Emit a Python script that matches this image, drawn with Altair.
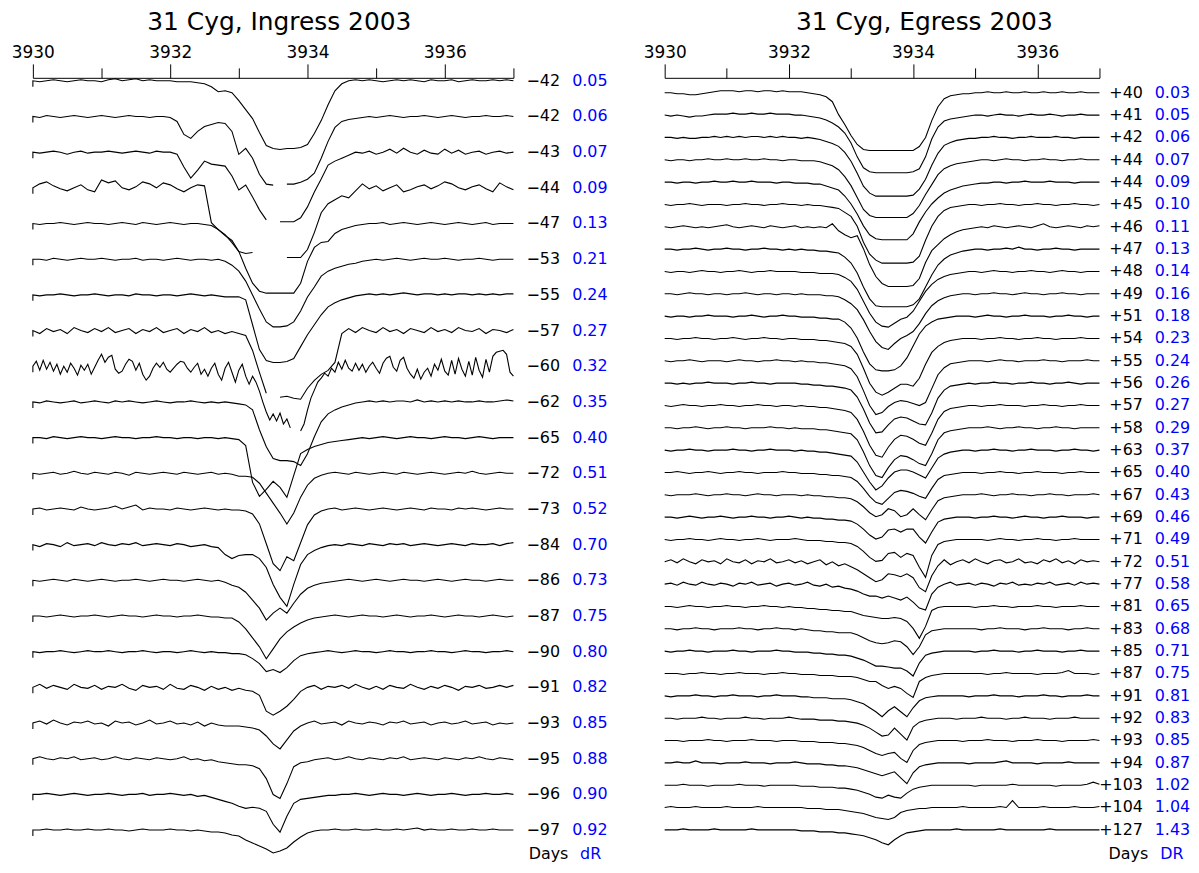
import altair as alt
import pandas as pd

N = None
LAM0, LAM1 = 3930.0, 3937.0   # every spectrum is sampled evenly from 3930.0 to 3937.0 A

# ---------------- Ingress 2003 (left panel) ----------------
LEFT_DAYS = ["−42", "−42", "−43", "−44", "−47", "−53", "−55", "−57", "−60", "−62", "−65",
             "−72", "−73", "−84", "−86", "−87", "−90", "−91", "−93", "−95", "−96", "−97"]
LEFT_DR = ["0.05", "0.06", "0.07", "0.09", "0.13", "0.21", "0.24", "0.27", "0.32", "0.35", "0.40",
           "0.51", "0.52", "0.70", "0.73", "0.75", "0.80", "0.82", "0.85", "0.88", "0.90", "0.92"]
# absorption depth below each spectrum's continuum (arbitrary units, None = gap)
# 71 values = 0.1 A steps; the -60 d spectrum (very noisy) has 141 values = 0.05 A steps
LEFT_SPECTRA = [
    [0, 1, 0, -1, 0, 1, 0, -1, 0, 0, 1, -1, -2, 0, -1, -2, 0, -1, 0, 0,
     0, 1, 1, 1, 2, 3, 6, 11, 10, 12, 20, 29, 38, 52, 65, 68, 69, 68, 68, 67,
     64, 53, 40, 24, 10, 3, 0, -1, 0, -1, 0, 1, 0, -1, 0, -1, 0, 1, -1, 0,
     0, -1, 1, 0, -1, 0, 0, -1, 0, -1, 0],
    [0, 1, -1, 0, 1, 0, -1, 0, 1, 0, -1, 0, 1, 0, -1, 0, 0, 1, 0, 0,
     1, 5, 18, 22, 15, 10, 8, 6, 7, 15, 38, 32, 42, 58, 68, 69, N, 68, 68, 66,
     63, 57, 42, 25, 11, 5, 3, 2, 1, 0, 1, 0, -1, 0, 1, 0, 0, -1, 0, 1,
     0, -1, 0, 1, 0, 0, -1, 0, 0, -1, 0],
    [0, 1, 0, -1, 0, 2, 0, -1, 1, 0, 0, -1, 0, 1, 0, -1, 0, 1, -1, 0,
     0, 2, 15, 26, 18, 9, 12, 13, 14, 24, 38, 33, 45, 58, 68, N, 70, 70, 70, 66,
     55, 40, 27, 13, 9, 6, 3, 0, 1, -1, 2, 0, -3, 1, -4, 0, 2, -2, 1, 2,
     -3, 1, -2, 2, 0, -1, 2, 0, -1, 1, 0],
    [0, -4, -6, -2, 1, 3, 0, -3, 2, 4, -8, -5, -7, 0, 2, -1, -6, -4, 0, -5,
     -3, 1, 4, 0, -3, -2, 35, 42, 47, 55, 64, 66, 65, N, N, N, N, 70, 70, 70,
     62, 45, 25, 16, 12, 8, 10, 3, -4, 1, -2, 3, 0, -3, 4, 2, -1, -3, 1, -2,
     -6, -4, 0, 2, -1, -3, 1, 4, -5, -1, 2],
    [0, 1, 0, 0, -1, 0, 1, 0, -1, 0, 0, 1, 0, -1, 0, 1, -1, 0, 1, 0,
     -1, 0, 1, 0, 0, 1, 2, 6, 12, 17, 28, 45, 60, 68, 70, 70, 70, 70, 70, 60,
     38, 24, 19, 18, 10, 6, 4, 2, 1, 0, 0, -1, 1, 0, -1, 0, 1, 0, -1, 0,
     1, 0, -1, 0, 1, 0, -1, 1, 0, 0, 0],
    [0, 0, 1, -1, 0, 1, 0, -1, 0, 0, -1, 0, 1, 0, 0, -1, 1, 0, 0, 1,
     0, -1, 0, 1, 0, 0, 1, 0, 2, 6, 12, 22, 36, 50, 63, 68, 68, 67, 63, 52,
     38, 28, 17, 12, 9, 7, 5, 4, 2, 1, 0, 1, 0, -1, 0, 1, 0, -1, 0, 0,
     -1, 0, 1, 0, 0, -1, 0, 1, 0, 0, 0],
    [0, 1, 0, 0, -1, 0, 1, 0, 0, -1, 0, 1, 0, 0, 1, -1, 0, 0, 1, 0,
     0, 1, 0, -1, 0, 1, 0, 1, 2, 2, 2, 5, 30, 55, 66, 68, 68, 67, 64, 52,
     40, 30, 20, 12, 8, 5, 3, 1, 0, -1, 0, -1, 0, -1, -2, -1, 0, -1, -1, 0,
     -1, 0, -1, -1, 0, -1, 0, -1, 0, -1, -1],
    [0, 3, -2, 1, -1, 3, -3, 0, 2, -2, 1, -3, 2, 0, -2, 3, -1, 1, -3, 2,
     0, -2, 3, -1, 1, -3, 2, 0, 3, 1, 3, 5, 20, 42, 63, N, 67, 66, 68, 69,
     58, 50, 44, 40, 32, 3, -2, 2, -3, 0, 2, -3, 1, -1, 3, -2, 0, 2, -3, 1,
     -1, 2, -3, 0, 1, -2, 3, -1, 0, 2, -1],
    [0, -5, 4, -6, 3, -4, 5, -2, 8, 0, 6, -3, 2, 9, -1, 4, -2, 8, 1, -6,
     -12, -4, -9, -11, 3, 7, 5, -2, -7, -5, 4, -3, 8, 14, 10, 2, -3, 1, -4, 3,
     6, 2, -2, -5, -4, 2, 6, 1, -3, 8, 3, 10, 2, -3, 8, 14, 2, -4, 6, 16,
     4, -2, 10, 18, 10, 16, 25, 36, 46, 54, 48, 55, 47, 58, 53, 62, N, N, 65, 58,
     44, 32, 24, 16, 12, 7, 10, 2, 6, -4, 3, -6, 2, 5, -3, 4, -2, 6, 0, -4,
     2, 7, -3, -8, -10, 1, 5, -6, -9, 2, 8, 12, 3, 13, 6, 2, 10, -2, 4, -7,
     5, 9, -6, 8, -8, 3, 10, -5, 9, -9, 4, 11, -7, 6, -10, -14, -15, -16, -12, 6,
     10],
    [0, 1, -1, 0, 1, 0, -1, 1, 0, -1, 0, 1, -1, 0, -1, 0, 1, 0, -1, 0,
     1, 0, 0, -1, 0, 1, 0, 1, 0, 1, 2, 3, 8, 28, 45, 57, 59, 59, 60, 64,
     52, 35, 20, 12, 8, 5, 3, 1, 0, -1, 0, -1, 0, -1, -1, 0, -2, 0, -1, 0,
     -1, 0, -1, 0, 0, -1, 0, 0, -1, -2, -1],
    [0, 0, 1, -1, 0, 1, 0, -1, 0, 0, 1, 0, -1, 0, 0, 1, 0, 0, -1, 0,
     0, 1, 0, 0, 1, 0, 0, 1, 0, 1, 2, 8, 45, 59, 52, 44, 50, 60, 38, 16,
     12, 9, 7, 5, 4, 3, 2, 1, 0, 1, 0, -1, 0, 1, 0, -1, 0, 0, 1, 0,
     -1, 0, 0, 1, 0, -1, 0, 1, 0, 0, 0],
    [0, 1, 0, -1, 1, 0, -2, 0, 1, -1, 0, 1, -1, 0, 2, -1, 0, 1, 0, -1,
     0, 1, -1, 0, 1, 0, -1, 1, 0, 1, 3, 3, 4, 10, 20, 30, 40, 51, 40, 24,
     12, 5, 2, 0, -1, 0, 1, -1, 0, 1, 0, -1, 0, 1, -1, 0, 1, 0, -1, 0,
     1, 0, -1, 0, -2, 0, 1, 0, -1, 0, 0],
    [0, -1, 1, 0, -1, 0, 1, -2, 0, 1, 0, -1, -3, 0, -2, -4, 1, -1, 0, 0,
     1, -1, 0, 1, 0, -1, 0, 1, 0, 1, 1, 2, 5, 15, 35, 55, 62, 48, 52, 34,
     16, 6, 2, 0, -1, 1, 0, -1, 0, 1, 0, -1, 0, 1, 0, -1, 0, 1, -1, 0,
     0, 1, -1, 0, -1, 0, 1, 0, -1, 0, 0],
    [0, 2, -1, 0, 2, -2, 1, 0, -1, 1, -2, 0, 1, -1, 0, -2, 1, 0, -1, 0,
     1, -1, 0, 2, 1, 0, 2, 3, 10, 14, 11, 10, 10, 14, 23, 40, 53, 62, 40, 20,
     10, 6, 3, 1, 0, 1, -1, 0, 1, -1, 0, 1, -1, 0, -1, 1, 0, -1, 0, 1,
     0, -1, 0, 1, -1, 0, 0, -1, 1, -1, -2],
    [0, 1, 0, -1, 0, 1, -1, 0, 1, 0, -1, 0, 1, 0, 0, -1, 0, 1, 0, -1,
     0, 0, 1, 0, -1, 0, 1, 0, 2, 5, 7, 12, 20, 28, 40, 33, 28, 33, 23, 14,
     8, 5, 3, 2, 1, 0, -1, 0, 1, 0, -1, 0, 1, 0, -1, 0, 0, 1, 0, -1,
     0, 1, 0, -1, 0, 0, 1, 0, -1, 0, 0],
    [0, 0, 1, 0, -1, 0, 1, 0, 0, -1, 0, 1, 0, -1, 0, 0, 1, 0, -1, 0,
     0, 1, 0, 0, -1, 0, 1, 1, 2, 2, 6, 13, 22, 31, 43, 33, 23, 16, 11, 7,
     4, 2, 1, 0, -1, 0, 1, 0, -1, 0, 0, 1, 0, -1, 0, 1, 0, 0, -1, 0,
     1, 0, -1, 0, 0, 1, 0, -1, 0, 1, 0],
    [0, 1, 0, 0, -1, 0, 1, 0, -1, 0, 0, -1, 0, 1, 0, 0, -1, 0, 1, 0,
     0, 1, 0, -1, 0, 1, 0, 1, 1, 2, 2, 3, 7, 12, 20, 18, 21, 16, 9, 4,
     2, 1, 0, -1, 0, 1, 0, -1, 0, 0, 1, 0, -1, 0, 0, 1, 0, 0, -1, 0,
     0, 1, 0, -1, 0, 0, 1, 0, 0, -1, 0],
    [0, -3, 1, -2, 0, 2, -3, 0, 1, -2, 2, -1, 0, -3, 1, 3, -2, 0, -1, 2,
     -3, 1, 2, -2, 0, 3, -1, 2, 0, 3, 1, 3, 4, 8, 24, 28, 24, 19, 12, 4,
     0, -2, 2, -1, 0, -2, 1, -3, 0, 2, -1, 2, -2, 0, 1, -3, 0, 2, -1, 1,
     -2, 0, 3, -1, 0, -2, 1, 0, -2, 0, -2],
    [0, -2, 1, -3, 0, 2, -1, 0, -2, 1, 0, 3, -2, 0, -1, 2, 0, -3, 1, 0,
     -2, 1, 0, 2, -1, 3, 0, 2, 3, 3, 3, 4, 5, 7, 13, 21, 26, 17, 8, 3,
     0, -2, 1, 0, -1, 2, -2, 0, 1, -1, 0, 2, -1, 0, -2, 1, 0, -1, 2, 0,
     -1, 1, 0, -2, 1, 0, -1, 2, 0, 1, 0],
    [0, -2, 0, 1, -1, 0, -2, 1, 0, -1, 1, 0, -2, 0, 1, -1, 0, 1, -1, 0,
     1, 0, -2, 1, 0, 2, 1, 3, 4, 5, 6, 6, 7, 10, 20, 36, 40, 25, 8, 4,
     3, 1, 0, -1, 1, 0, -2, 0, 1, -1, 0, 1, -1, 0, -2, 1, 0, -1, 0, 1,
     -1, 0, 1, -1, 0, -2, 0, 1, -1, 0, 1],
    [0, 0, -1, 0, 1, 0, -1, 0, 1, 0, 0, -1, 0, 1, 0, 0, -1, 1, 0, 0,
     -1, 0, 1, 0, 2, 1, 3, 5, 7, 9, 12, 14, 13, 14, 17, 30, 38, 22, 9, 5,
     4, 3, 2, 1, 1, 0, 0, -1, 0, 1, 0, -1, 0, 0, 1, 0, -1, 0, 1, 0,
     0, -1, 0, 1, 0, 0, -1, 0, 0, -1, 0],
    [0, 0, -1, 0, 0, -1, 0, 0, -1, 0, 0, -1, 0, 0, 1, 0, -1, 0, 0, 0,
     -1, 0, 0, 1, 0, 1, 2, 2, 3, 5, 6, 10, 13, 16, 19, 23, 21, 18, 12, 7,
     3, 1, 0, 0, -1, 0, 0, -1, 0, 0, -1, 0, 0, -1, 0, -1, -2, 0, -1, 0,
     0, -1, 0, 0, -1, 0, 0, -1, 0, 0, 0],
]

# ---------------- Egress 2003 (right panel) ----------------
RIGHT_DAYS = ["+40", "+41", "+42", "+44", "+44", "+45", "+46", "+47", "+48", "+49", "+51", "+54",
              "+55", "+56", "+57", "+58", "+63", "+65", "+67", "+69", "+71", "+72", "+77", "+81",
              "+83", "+85", "+87", "+91", "+92", "+93", "+94", "+103", "+104", "+127"]
RIGHT_DR = ["0.03", "0.05", "0.06", "0.07", "0.09", "0.10", "0.11", "0.13", "0.14", "0.16", "0.18",
            "0.23", "0.24", "0.26", "0.27", "0.29", "0.37", "0.40", "0.43", "0.46", "0.49", "0.51",
            "0.58", "0.65", "0.68", "0.71", "0.75", "0.81", "0.83", "0.85", "0.87", "1.02", "1.04", "1.43"]
RIGHT_SPECTRA = [
    [0, 0, 1, 1, 2, 2, 1, 0, -1, -2, -2, -2, -1, -2, -2, -1, -2, -2, -1, -2,
     -1, -1, -1, 0, 1, 2, 4, 9, 22, 32, 43, 52, 57, 58, 58, 58, 58, 58, 58, 58,
     58, 54, 45, 28, 14, 6, 3, 2, 1, 1, 0, 0, -1, 0, 0, -1, 0, 0, -1, 0,
     0, -1, 0, 0, -1, 0, 0, -1, 0, 0, 0],
    [0, 1, 0, 1, 2, 1, 1, 0, -1, -1, -1, -2, -1, -1, -2, -1, -1, -2, -1, -1,
     -1, 0, 0, 1, 2, 3, 5, 8, 12, 18, 28, 42, 53, 57, 58, 58, 58, 58, 58, 58,
     57, 54, 42, 24, 12, 6, 4, 3, 2, 1, 0, 0, 1, 0, -1, 0, 0, 1, 0, -1,
     0, 0, -1, 0, 1, 0, 0, -1, 0, 0, 0],
    [0, 0, 1, 0, 1, 1, 0, 0, -1, 0, -1, 0, -1, 0, -1, -1, 0, -1, 0, -1,
     0, 0, 1, 0, 1, 2, 4, 6, 9, 15, 24, 36, 49, 56, 59, 59, 59, 59, 59, 59,
     58, 52, 42, 28, 16, 8, 5, 3, 2, 1, 1, 0, 0, -1, 0, 0, 1, 0, 0, -1,
     0, 0, 0, -1, 0, 0, 1, 0, 0, 0, 0],
    [0, 1, 0, 0, 1, 0, 0, -1, 0, 0, -1, 0, 0, -1, 0, 0, -1, 0, 0, 1,
     0, 0, 1, 1, 1, 2, 4, 6, 10, 17, 26, 38, 50, 56, 58, 58, 58, 58, 58, 58,
     54, 46, 35, 25, 15, 9, 6, 4, 3, 2, 1, 0, 0, 1, 0, -1, 0, 0, 1, 0,
     0, -1, 0, 0, 1, 0, 0, -1, 0, 0, 0],
    [0, 0, 1, 0, 0, 1, 0, 0, -1, 0, 0, -1, 0, 0, -1, 0, 0, 0, 1, 0,
     0, 1, 1, 1, 2, 2, 4, 6, 8, 14, 22, 32, 44, 53, 57, 58, 58, 58, 58, 58,
     52, 40, 30, 22, 16, 11, 8, 6, 4, 3, 2, 1, 1, 0, 0, 1, 0, 0, -1, 0,
     0, 0, -1, 0, 0, 0, 1, 0, 0, 0, 0],
    [0, 1, 0, 0, -1, 0, 1, 0, 0, 0, 1, 0, 0, -1, 0, 0, 1, 0, 0, -1,
     0, 0, 1, 0, 1, 1, 2, 3, 4, 8, 12, 22, 38, 50, 56, 59, 59, 59, 59, 59,
     58, 52, 36, 22, 12, 6, 3, 2, 1, 0, 0, 1, 0, 0, -1, 0, 0, 1, 0, 0,
     -1, 0, 0, 1, 0, 0, -1, 0, 0, 1, 0],
    [0, 1, 0, -1, 0, 1, 0, 1, 0, -1, -2, 0, 1, 0, -1, 0, 1, -1, 0, 1,
     0, -1, 1, 0, 1, 0, 1, -3, 4, 8, 11, 9, 22, 38, 50, 57, 60, 60, 60, 60,
     59, 52, 36, 24, 18, 12, 8, 5, 3, 2, 1, 0, 1, -1, 0, 1, 0, -1, 0, 1,
     -1, -3, 0, 1, 0, -1, 0, 1, -1, 0, -1],
    [0, 0, 1, 0, 0, -1, 0, 1, 0, 0, -1, 0, 0, 1, 0, 0, -1, 0, 0, 1,
     0, 1, 0, 1, 1, 2, 2, 3, 4, 8, 14, 24, 38, 50, 57, 58, 58, 58, 58, 58,
     56, 50, 38, 26, 16, 10, 6, 4, 2, 1, 0, 0, 1, 0, 0, -1, 0, -2, 0, 0,
     1, 0, 0, -1, 0, 0, 1, 0, 0, 0, 0],
    [0, 1, 0, 0, 1, 0, -1, 0, 0, 1, 0, 0, -1, 0, 1, 0, 0, -1, 0, 0,
     0, 0, 1, 1, 1, 2, 2, 2, 3, 6, 10, 18, 30, 42, 51, 55, 56, 52, 48, 46,
     40, 30, 20, 13, 8, 5, 3, 2, 1, 0, 0, 1, 0, -1, 0, 0, 1, 0, 0, -1,
     0, 0, 1, 0, -1, 0, 0, 1, 0, 0, 0],
    [0, 0, 1, 0, -1, 0, 0, 1, 0, 0, 1, 0, 0, -1, 0, 1, 0, 0, 1, 0,
     0, 1, 0, 1, 1, 1, 2, 2, 3, 6, 10, 16, 26, 38, 48, 54, 56, 50, 45, 42,
     38, 30, 20, 12, 7, 4, 2, 1, 0, 0, 1, 0, 0, -1, 0, 0, 1, 0, -1, 0,
     0, 1, 0, 0, -1, 0, 0, 1, 0, 0, 0],
    [0, 1, 0, 0, 1, 0, 0, -1, 0, 0, 0, 1, 0, 0, -1, 0, 1, 0, 0, -1,
     0, 0, 1, 1, 1, 2, 2, 3, 3, 6, 12, 22, 36, 48, 54, 55, 55, 54, 50, 42,
     30, 18, 10, 6, 3, 2, 1, 0, 0, 0, 1, 0, -1, 0, 0, 1, 0, 0, -1, 0,
     0, 0, 1, 0, 0, -1, 0, 0, 1, 0, 0],
    [0, 0, 1, 0, 0, -1, 0, 0, 1, 0, 0, -1, 0, 1, 0, 0, -1, 0, 0, 1,
     0, 0, 1, 1, 1, 2, 2, 3, 4, 5, 8, 16, 30, 45, 54, 57, 54, 50, 46, 46,
     48, 40, 26, 14, 8, 4, 2, 1, 0, 0, 0, 1, 0, 0, -1, 0, 0, 1, 0, 0,
     -1, 0, 0, 1, 0, 0, 0, -1, 0, 0, 0],
    [0, 1, 0, 0, -1, 0, 1, 0, 0, 0, 1, 0, -1, 0, 0, 1, 0, 0, -1, 0,
     0, 1, 0, 1, 1, 2, 2, 3, 4, 5, 8, 16, 30, 45, 54, 52, 46, 42, 40, 41,
     43, 45, 42, 28, 14, 7, 3, 2, 1, 0, 0, 0, 1, 0, -1, 0, 0, 1, 0, 0,
     0, -1, 0, 0, 1, 0, 0, 0, -1, 0, 0],
    [0, 0, 1, 0, 1, 0, 0, -1, 0, 0, 0, 1, 0, 0, -1, 0, 0, 1, 0, 0,
     0, 0, 1, 1, 2, 2, 3, 3, 4, 5, 7, 14, 26, 40, 50, 49, 42, 36, 34, 35,
     38, 41, 42, 30, 15, 7, 3, 2, 1, 0, 1, 0, 0, -1, 0, 0, 1, 0, 0, -1,
     0, 0, 1, 0, 0, -1, 0, 1, 0, 0, 0],
    [0, 1, 0, -1, 0, 0, 1, 0, 0, -1, 0, 0, 1, 0, 0, -1, 0, 0, 1, 0,
     0, 1, 0, 1, 1, 2, 2, 3, 4, 5, 7, 14, 26, 40, 50, 52, 42, 34, 30, 31,
     34, 38, 40, 28, 14, 6, 3, 2, 1, 0, 0, 1, 0, 0, -1, 0, 0, 0, 1, 0,
     0, -1, 0, 0, 1, 0, 0, -1, 0, 0, 0],
    [0, 0, 1, 0, 0, -1, 0, 1, 0, 0, -1, 0, 0, 1, 0, 0, 0, -1, 0, 0,
     1, 0, 1, 1, 1, 2, 2, 3, 4, 5, 6, 12, 24, 38, 48, 50, 40, 32, 28, 29,
     32, 36, 38, 26, 12, 5, 3, 2, 1, 0, 0, 0, -1, 0, 1, 0, 0, -1, 0, 0,
     1, 0, 0, -1, 0, 0, 1, 0, 0, 0, 0],
    [0, 1, 0, 0, -1, 0, 0, 1, 0, 0, 0, -1, 0, 0, 1, 0, 0, -1, 0, 0,
     0, 1, 0, 1, 1, 2, 2, 3, 4, 5, 6, 12, 22, 32, 40, 36, 28, 22, 20, 20,
     22, 25, 28, 18, 8, 4, 2, 1, 0, 0, 1, 0, 0, -1, 0, 0, 1, 0, 0, -1,
     0, 0, 0, 1, 0, 0, -1, 0, 0, 1, 0],
    [0, 0, -1, 0, 1, 0, 0, -1, 0, 1, 0, 0, -1, 0, 0, 1, 0, 0, 0, -1,
     0, 0, 1, 1, 1, 2, 2, 3, 3, 4, 5, 9, 16, 24, 30, 32, 26, 20, 18, 19,
     21, 24, 26, 16, 7, 3, 2, 1, 0, 0, 0, 1, 0, 0, -1, 0, 0, 1, 0, 0,
     -1, 0, 0, 0, 1, 0, 0, -1, 0, 0, 0],
    [0, 1, 0, 0, 0, -1, 0, 1, 0, 0, -1, 0, 0, 1, 0, -1, 0, 0, 1, 0,
     0, 0, 1, 0, 1, 1, 2, 2, 3, 3, 4, 7, 12, 18, 22, 20, 14, 16, 22, 20,
     14, 20, 25, 15, 6, 3, 2, 1, 0, 0, 0, -1, 0, 1, 0, 0, -1, 0, 0, 1,
     0, 0, -1, 0, 0, 1, 0, 0, 0, -1, 0],
    [0, 0, 1, 0, -1, 0, 1, 0, 0, -1, 0, 1, 0, 0, -1, 0, 0, 1, 0, 0,
     -1, 0, 1, 0, 1, 1, 2, 2, 3, 3, 4, 7, 12, 18, 22, 20, 13, 12, 15, 12,
     12, 20, 26, 15, 5, 2, 1, 0, 0, 0, 1, 0, 0, -1, 0, 0, 1, 0, -1, 0,
     0, 1, 0, 0, -1, 0, 0, 0, 1, 0, 0],
    [0, 1, 0, 0, -1, 0, 0, 1, 0, -1, 0, 0, 1, 0, 0, -1, 0, 1, 0, 0,
     0, -1, 0, 1, 1, 1, 2, 2, 3, 3, 4, 7, 12, 18, 22, 21, 14, 13, 18, 14,
     16, 28, 38, 16, 5, 2, 1, 0, 0, 0, 0, 0, 1, 0, -1, 0, 0, 1, 0, 0,
     -1, 0, 0, 1, 0, 0, -1, 0, 0, 0, 0],
    [0, -2, 1, -3, 0, 2, -2, 0, -1, 2, -3, 0, 1, -2, 2, -1, 0, -3, 1, 0,
     -2, 1, -1, 2, 0, -2, 3, 0, 4, 2, 5, 8, 12, 16, 20, 18, 12, 13, 15, 12,
     16, 26, 30, 14, 4, -2, 3, 0, -2, 1, -3, 0, 2, -1, -2, 1, 0, -3, 1, 0,
     2, -2, 0, -3, 1, -1, 2, -2, 0, -1, 0],
    [0, -1, 1, -2, 0, 1, -2, 0, 1, -1, 0, 2, -1, 0, -2, 1, 0, -1, 2, 0,
     -1, 1, 0, -2, 1, 2, 0, 3, 2, 4, 5, 7, 10, 12, 12, 14, 12, 14, 16, 13,
     18, 24, 26, 10, 3, 0, -2, 1, 0, -1, 1, -1, 0, 2, -1, 0, -2, 1, 0, 1,
     -1, 0, -2, 1, 0, -1, 1, -2, 0, -1, 0],
    [0, 0, 1, 0, -1, 0, 0, 1, 0, 0, -1, 0, 0, 1, 0, 0, -1, 0, 0, 1,
     0, 1, 1, 2, 2, 3, 3, 4, 4, 5, 5, 7, 9, 10, 11, 12, 12, 11, 12, 15,
     22, 32, 20, 4, 1, 0, 0, 0, 0, 0, 1, 0, 0, -1, 0, 0, 1, 0, 0, 0,
     -1, 0, 0, 1, 0, 0, 0, -1, 0, 0, 0],
    [0, 0, 1, 0, 0, -1, 0, 0, 1, 0, 0, 0, -1, 0, 0, 1, 0, 0, -1, 0,
     0, 1, 0, 1, 2, 2, 3, 3, 4, 4, 4, 6, 9, 12, 14, 15, 14, 12, 13, 18,
     26, 18, 6, 2, 1, 0, 0, 0, 0, 0, 0, 1, 0, 0, -1, 0, 0, 0, 1, 0,
     0, -1, 0, 0, 0, 1, 0, 0, -1, 0, 0],
    [0, 1, 0, 0, -1, 0, 0, 1, 0, 0, 0, -1, 0, 0, 1, 0, 0, 0, -1, 0,
     0, 1, 1, 1, 2, 2, 3, 3, 4, 4, 5, 7, 9, 12, 15, 15, 16, 17, 17, 20,
     25, 12, 4, 2, 1, 0, 0, 0, 0, 0, 1, 0, 0, -1, 0, 0, 0, 1, 0, 0,
     -1, 0, 0, 0, 1, 0, 0, -1, 0, 0, 0],
    [0, 0, 0, 1, 0, 0, -1, 0, 0, 1, 0, 0, -1, 0, 0, 0, 1, 0, 0, -1,
     0, 0, 1, 1, 1, 2, 2, 2, 3, 3, 3, 4, 6, 8, 8, 12, 15, 13, 15, 20,
     24, 8, 4, 2, 1, 0, 0, 0, 0, 0, 0, 0, 1, 0, 0, -1, 0, 0, 0, 0,
     1, 0, 0, 0, -1, -3, 0, 0, 0, 1, 0],
    [0, 1, 0, 0, 0, -1, 0, 0, 1, 0, 0, -1, 0, 0, 0, 1, 0, 0, -1, 0,
     0, 0, 1, 1, 2, 2, 2, 3, 3, 3, 4, 6, 8, 12, 16, 21, 15, 11, 16, 21,
     12, 5, 2, 1, 0, 0, 0, 0, 0, 1, 0, 0, 0, -1, 0, 0, 0, 1, 0, 0,
     0, -1, 0, 0, 1, 0, 0, 0, -1, 0, 0],
    [0, 0, 1, 0, 0, 0, -1, 0, 0, 1, 0, 0, 0, -1, 0, 0, 1, 0, 0, 0,
     -1, 0, 1, 1, 1, 2, 2, 2, 3, 3, 4, 5, 7, 10, 14, 18, 17, 10, 16, 22,
     9, 4, 2, 1, 0, 0, 0, 1, 0, 0, 0, -1, 0, 0, 0, 1, 0, 0, -1, 0,
     0, 0, 1, 0, 0, 0, -1, 0, 0, 0, 0],
    [0, 0, 0, 1, 0, 0, 0, -1, 0, 0, 1, 0, 0, 0, -1, 0, 0, 0, 1, 0,
     0, 0, 1, 1, 1, 2, 2, 2, 3, 3, 4, 5, 7, 10, 13, 15, 13, 12, 18, 22,
     10, 4, 2, 1, 0, 0, 0, 0, 1, 0, 0, 0, -1, 0, 0, 0, 1, 0, 0, 0,
     -1, 0, 0, 0, 1, 0, 0, 0, 0, -1, 0],
    [0, 0, -1, 0, 0, -2, 0, 0, 0, 1, 0, 0, 0, -1, 0, 0, 0, 1, 0, 0,
     0, -1, 0, 1, 1, 1, 2, 2, 3, 3, 4, 5, 7, 9, 11, 13, 11, 9, 15, 21,
     10, 4, 2, 1, 0, 0, 0, 0, 0, 1, 0, 0, 0, 0, -1, -2, 0, 0, 0, 0,
     1, 0, 0, 0, 0, -1, 0, 0, 0, 0, 0],
    [0, 0, 0, -1, 0, 0, 0, 1, 0, 0, 0, 0, -1, 0, 0, 0, 1, 0, 0, 0,
     0, 0, 1, 1, 1, 2, 2, 2, 3, 3, 4, 5, 7, 9, 12, 13, 10, 12, 13, 8,
     4, 2, 1, 0, 0, 0, 0, 0, 0, 0, 1, 0, 0, 0, 0, 0, -1, 0, 0, 0,
     0, 0, 0, 1, 0, 0, 0, 0, -1, -3, -1],
    [0, -1, 0, 0, 0, -1, 0, 0, 0, 0, -1, 0, 0, 0, 0, -1, 0, 0, 0, 0,
     0, 0, 0, 1, 1, 1, 2, 2, 2, 3, 4, 5, 6, 8, 10, 11, 12, 10, 5, 3,
     2, 1, 1, 0, 0, 0, 0, 0, -1, 0, 0, 0, 0, 0, -1, 0, -7, 0, 0, 0,
     0, -1, 0, 0, 0, 0, -1, 0, 0, 0, -1],
    [0, 0, 0, -1, 0, 0, 0, 0, -1, 0, 0, 0, 0, 0, -1, 0, 0, 0, 0, 0,
     0, 0, 1, 1, 1, 2, 2, 2, 3, 3, 4, 5, 6, 8, 10, 13, 15, 10, 6, 3,
     2, 1, 0, 0, 0, 0, 0, -1, 0, 0, 0, 0, 0, 0, -1, 0, 0, 0, 0, 0,
     0, 0, -1, 0, 0, 0, 0, 0, 0, 0, 0],
]

# layout of the stacks (in flux units = screen px of the original)
LEFT_TOP, LEFT_STEP, LEFT_HOOK = 3.0, 35.86, 6
RIGHT_TOP, RIGHT_STEP = 15.0, 22.45
Y_DOMAIN = [-790, 0]


def spectra_frame(spectra, top, step, hook):
    rows = []
    for k, vals in enumerate(spectra):
        base = -(top + step * k)
        dl = (LAM1 - LAM0) / (len(vals) - 1)
        seg = 0
        if hook:
            rows.append(dict(lam=LAM0, flux=base - hook, key=f"{k}-0", o=-1))
        for i, v in enumerate(vals):
            if v is None:
                seg += 1
                continue
            rows.append(dict(lam=round(LAM0 + dl * i, 3), flux=base - v, key=f"{k}-{seg}", o=i))
    return pd.DataFrame(rows)


def label_frame(days, drs, top, step):
    return pd.DataFrame({"days": days, "dr": drs,
                         "flux": [-(top + step * k) for k in range(len(days))]})


def x_axis():
    return alt.Axis(orient="top", values=list(range(3930, 3938)), format="d",
                    labelExpr="datum.value % 2 === 0 ? datum.label : ''",
                    tickSize={"condition": {"test": "datum.value % 2 === 0", "value": 14}, "value": 10},
                    tickColor="black", tickWidth=1, domainColor="black", domainWidth=1,
                    labelColor="black", labelFont="DejaVu Sans", labelFontSize=17,
                    labelPadding=2, labelFlush=False, labelOverlap=False, grid=False, title=None)


def panel(spectra, days, drs, top, step, hook, width, title, dx,
          lam_days, lam_dr, foot_days, foot_dr, foot_dr_text):
    xs = alt.Scale(domain=[3930, 3937], nice=False, zero=False)
    ys = alt.Scale(domain=Y_DOMAIN, nice=False, zero=False)
    df = spectra_frame(spectra, top, step, hook)
    lines = alt.Chart(df).mark_line(color="black", strokeWidth=1.1, interpolate="linear").encode(
        x=alt.X("lam:Q", scale=xs, axis=x_axis()),
        y=alt.Y("flux:Q", scale=ys, axis=None),
        detail="key:N", order="o:Q")
    lab = label_frame(days, drs, top, step)
    t_days = alt.Chart(lab).mark_text(align="right", baseline="middle", fontSize=16,
                                      font="DejaVu Sans", color="black").encode(
        x=alt.datum(lam_days, scale=xs), y=alt.Y("flux:Q", scale=ys), text="days:N")
    t_dr = alt.Chart(lab).mark_text(align="left", baseline="middle", fontSize=16,
                                    font="DejaVu Sans", color="blue").encode(
        x=alt.datum(lam_dr, scale=xs), y=alt.Y("flux:Q", scale=ys), text="dr:N")
    foot = pd.DataFrame({"t": ["Days"], "u": [foot_dr_text], "flux": [-780]})
    f1 = alt.Chart(foot).mark_text(align="right", baseline="middle", fontSize=16,
                                   font="DejaVu Sans", color="black").encode(
        x=alt.datum(foot_days, scale=xs), y=alt.Y("flux:Q", scale=ys), text="t:N")
    f2 = alt.Chart(foot).mark_text(align="left", baseline="middle", fontSize=16,
                                   font="DejaVu Sans", color="blue").encode(
        x=alt.datum(foot_dr, scale=xs), y=alt.Y("flux:Q", scale=ys), text="u:N")
    return alt.layer(lines, t_days, t_dr, f1, f2).properties(
        width=width, height=790,
        title=alt.TitleParams(title, font="DejaVu Sans", fontSize=25, fontWeight="normal",
                              color="black", anchor="start", frame="group", dx=dx, offset=9))


left = panel(LEFT_SPECTRA, LEFT_DAYS, LEFT_DR, LEFT_TOP, LEFT_STEP, LEFT_HOOK, 483,
             "31 Cyg, Ingress 2003", 115, 3937.68, 3937.855, 3937.80, 3937.97, "dR")
right = panel(RIGHT_SPECTRA, RIGHT_DAYS, RIGHT_DR, RIGHT_TOP, RIGHT_STEP, 0, 437,
              "31 Cyg, Egress 2003", 132, 3937.70, 3937.89, 3937.785, 3937.98, "DR")

chart = alt.hconcat(left, right, spacing=35).properties(
    padding={"left": 3, "top": 0, "right": 0, "bottom": 0}
).configure(font="DejaVu Sans", background="white").configure_view(stroke=None)

chart.save("out.html", embed_options={"renderer": "svg", "actions": False})
